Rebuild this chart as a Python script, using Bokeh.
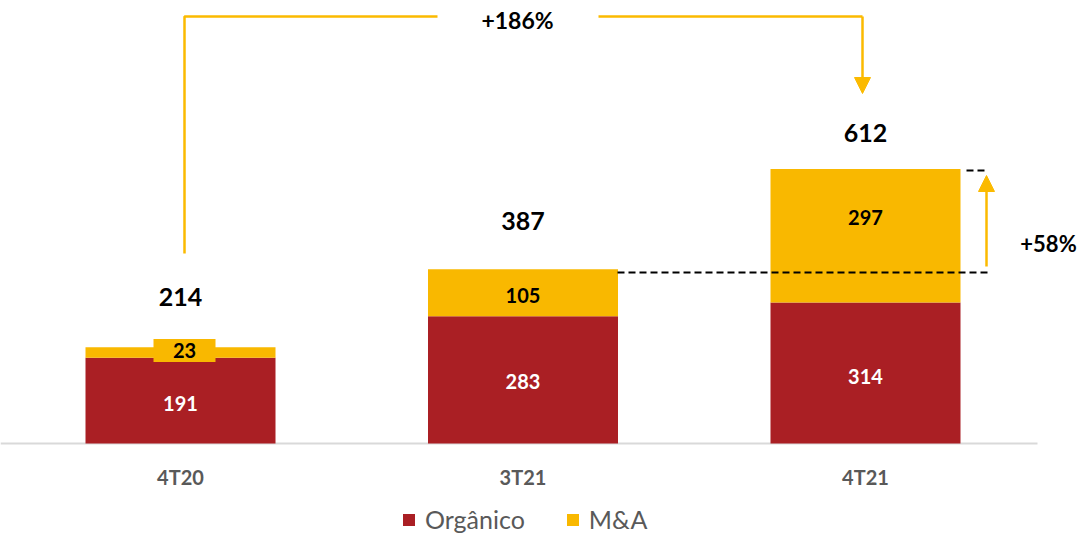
from bokeh.plotting import figure
from bokeh.models import (ColumnDataSource, Range1d, Legend, LegendItem, Arrow,
                          NormalHead)
from bokeh.core.properties import value
from bokeh.embed import file_html
from bokeh.resources import INLINE

# ---- data ----
categories = ["4T20", "3T21", "4T21"]
organico = [191, 283, 314]
ma = [23, 105, 297]
totals = [214, 387, 612]
growth_yoy = "+186%"
growth_qoq = "+58%"

RED = "#AA1F24"
YEL = "#F9B800"
LINE_YEL = "#FBBA00"
FONT = "Lato"

xs = list(range(len(categories)))
src = ColumnDataSource(dict(x=xs, cat=categories, organico=organico, ma=ma,
                            total=totals))

W, H = 1077, 534
# mapping helpers (image px -> data), used only for annotation placement
def X(px):
    return (px - 180) / 342.5

def Y(py):
    return (443 - py) / 0.4494

p = figure(width=W, height=H, output_backend="svg", toolbar_location=None,
           x_range=Range1d(X(0), X(W)), y_range=Range1d(Y(H), Y(0)),
           min_border=0, min_border_left=0, min_border_right=0,
           min_border_top=0, min_border_bottom=0)
p.axis.visible = False
p.grid.visible = False
p.outline_line_color = None
p.background_fill_color = "white"

# baseline
p.line(x=[X(0), X(1037)], y=[0, 0], line_color="#D9D9D9", line_width=2)

BAR_W = 190 / 342.5
rs = p.vbar_stack(["organico", "ma"], x="x", width=BAR_W, color=[RED, YEL],
                  line_color=None, source=src)

# bar labels
org_label_y = [89, 138, 149]
ma_label_y = [207, 329, 503]
ma_label_dx = [4, 0, 0]
tot_label_y = [325, 494, 692]

p.rect(x=[xs[0] + ma_label_dx[0] / 342.5], y=[ma_label_y[0]], width=62,
       height=23, width_units="screen", height_units="screen",
       fill_color=YEL, line_color=None)

p.text(x=xs, y=org_label_y, text=[str(v) for v in organico],
       text_align="center", text_baseline="middle", text_color="white",
       text_font=value(FONT), text_font_style="bold", text_font_size="20px")
p.text(x=[x + d / 342.5 for x, d in zip(xs, ma_label_dx)], y=ma_label_y,
       text=[str(v) for v in ma],
       text_align="center", text_baseline="middle", text_color="black",
       text_font=value(FONT), text_font_style="bold", text_font_size="20px")
p.text(x=xs, y=tot_label_y, text=[str(v) for v in totals],
       text_align="center", text_baseline="middle", text_color="black",
       text_font=value(FONT), text_font_style="bold", text_font_size="25px")

# category labels
p.text(x=xs, y=[Y(476)] * 3, text=categories,
       text_align="center", text_baseline="middle", text_color="#595959",
       text_font=value(FONT), text_font_style="bold", text_font_size="20px")

# +186% connector
p.line(x=[X(184), X(184), X(437)], y=[Y(253), Y(16), Y(16)],
       line_color=LINE_YEL, line_width=2.5)
p.line(x=[X(598), X(862)], y=[Y(16), Y(16)],
       line_color=LINE_YEL, line_width=2.5)
p.add_layout(Arrow(x_start=X(862), y_start=Y(16), x_end=X(862), y_end=Y(93),
                   line_color=LINE_YEL, line_width=2.5,
                   end=NormalHead(size=16, fill_color=LINE_YEL,
                                  line_color=LINE_YEL, line_width=1)))
p.text(x=[X(517)], y=[Y(19)], text=[growth_yoy], text_align="center",
       text_baseline="middle", text_color="black", text_font=value(FONT),
       text_font_style="bold", text_font_size="23px")

# +58% connector
p.line(x=[X(617), X(987)], y=[Y(272), Y(272)], line_color="black",
       line_width=2, line_dash="7 4")
p.line(x=[X(966), X(987)], y=[Y(170), Y(170)], line_color="black",
       line_width=2, line_dash="7 4")
p.add_layout(Arrow(x_start=X(986), y_start=Y(266), x_end=X(986), y_end=Y(175),
                   line_color=LINE_YEL, line_width=2.5,
                   end=NormalHead(size=16, fill_color=LINE_YEL,
                                  line_color=LINE_YEL, line_width=1)))
p.text(x=[X(1048)], y=[Y(243)], text=[growth_qoq], text_align="center",
       text_baseline="middle", text_color="black", text_font=value(FONT),
       text_font_style="bold", text_font_size="22px")

legend = Legend(items=[LegendItem(label="Orgânico", renderers=[rs[0]]),
                       LegendItem(label="M&A", renderers=[rs[1]])],
                orientation="horizontal", location=(401, 0),
                border_line_color=None, background_fill_alpha=0,
                padding=0, margin=0, spacing=40, label_standoff=9,
                glyph_width=15, glyph_height=15,
                label_text_font_size="25px", label_text_color="#595959",
                label_text_font=FONT)
p.add_layout(legend, "center")

open("out.html", "w").write(file_html(p, INLINE))
